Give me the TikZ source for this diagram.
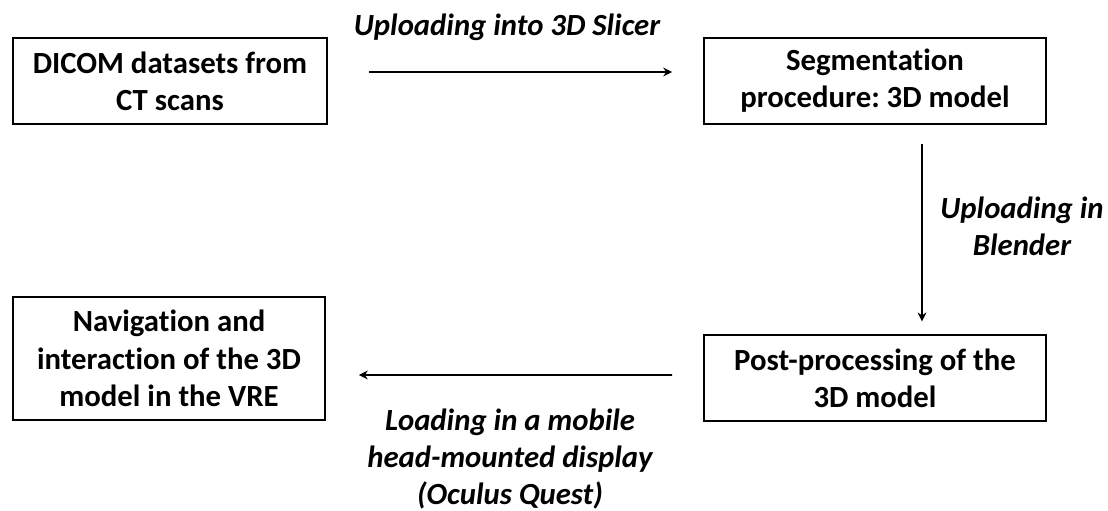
\documentclass[tikz,border=0pt]{standalone}
\usepackage{fontspec}
\setmainfont{Carlito}[Ligatures=NoCommon]
\usetikzlibrary{arrows.meta}
\frenchspacing

\begin{document}
\begin{tikzpicture}
  [every node/.style={font=\fontsize{17.5}{21.2}\selectfont\bfseries,align=center},
   box/.style={draw,line width=1.1pt,minimum height=1.71cm,inner sep=0pt},
   lbl/.style={font=\fontsize{17.5}{21.2}\selectfont\bfseries\itshape},
   flow/.style={line width=1pt,-{Stealth[length=5pt,width=5pt]}}]
  \useasboundingbox (0,0) rectangle (22.16,10.22);

  \node [box,minimum width=6.28cm] (dicom) at (3.40,8.60) {DICOM datasets from\\CT scans};
  \node [box,minimum width=6.84cm] (seg) at (17.50,8.60) {Segmentation\\procedure: 3D model};
  \node [box,minimum width=6.84cm] (post) at (17.50,2.66) {Post-processing of the\\3D model};
  \node [box,minimum width=6.24cm,minimum height=2.46cm] (nav) at (3.38,3.05) {Navigation and\\interaction of the 3D\\model in the VRE};

  \node [lbl] (slicer) at (10.14,9.68) {Uploading into 3D Slicer};
  \node [lbl] (blender) at (20.44,5.70) {Uploading in\\Blender};
  \node [lbl] (quest) at (10.20,1.04) {Loading in a mobile\\head-mounted display\\(Oculus Quest)};

  \draw [flow,shorten <=0.82cm,shorten >=0.62cm] ([yshift=0.18cm]dicom.east) -- ([yshift=0.18cm]seg.west);
  \draw [flow,shorten <=0.38cm,shorten >=0.26cm] ([xshift=0.94cm]seg.south) -- ([xshift=0.94cm]post.north);
  \draw [flow,shorten <=0.62cm,shorten >=0.66cm] ([yshift=0.06cm]post.west) -- ([yshift=-0.33cm]nav.east);

\end{tikzpicture}
\end{document}
